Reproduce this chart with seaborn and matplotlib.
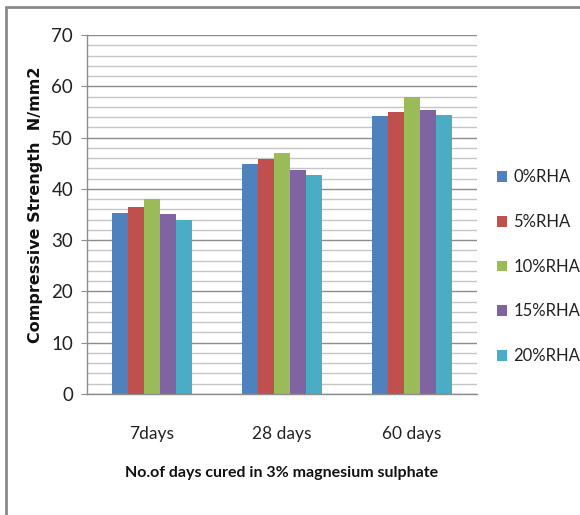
import matplotlib
matplotlib.use("Agg")
import matplotlib.pyplot as plt
from matplotlib.lines import Line2D
from matplotlib.ticker import MultipleLocator
import seaborn as sns
import pandas as pd

# Curing periods and rice husk ash replacement levels
days = ["7days", "28 days", "60 days"]
mixes = ["0%RHA", "5%RHA", "10%RHA", "15%RHA", "20%RHA"]

# Compressive strength (N/mm2) for each mix, per curing period
rha_0 = [35.2, 44.8, 54.3]
rha_5 = [36.5, 45.9, 55.0]
rha_10 = [38.0, 47.0, 58.0]
rha_15 = [35.0, 43.6, 55.4]
rha_20 = [33.9, 42.7, 54.5]

colors = ["#4F81BD", "#C0504D", "#9BBB59", "#8064A2", "#4BACC6"]

series = [rha_0, rha_5, rha_10, rha_15, rha_20]
rows = []
for mix, vals in zip(mixes, series):
    for d, v in zip(days, vals):
        rows.append({"days": d, "mix": mix, "strength": v})
df = pd.DataFrame(rows)

sns.set_style("white")
plt.rcParams["font.family"] = ["Lato", "DejaVu Sans"]

fig = plt.figure(figsize=(5.8, 5.15), dpi=100)
ax = fig.add_axes([0.15, 0.235, 0.6724, 0.697])

sns.barplot(data=df, x="days", y="strength", hue="mix", order=days,
            hue_order=mixes, palette=colors, width=0.62, saturation=1,
            linewidth=0, ax=ax, legend=True)

ax.set_ylim(0, 70)
ax.set_xlim(-0.5, 2.5)
ax.yaxis.set_major_locator(MultipleLocator(10))
ax.yaxis.set_minor_locator(MultipleLocator(2))
ax.set_axisbelow(True)
ax.grid(which="minor", axis="y", color="#c6c6c6", linewidth=1.0)
ax.grid(which="major", axis="y", color="#8c8c8c", linewidth=1.0)
ax.grid(axis="x", visible=False)

for side in ["top", "right"]:
    ax.spines[side].set_visible(False)
for side in ["left", "bottom"]:
    ax.spines[side].set_color("#8c8c8c")
    ax.spines[side].set_linewidth(1.0)

ax.tick_params(axis="y", which="major", direction="out", length=4,
               color="#8c8c8c", labelsize=13.5, pad=6, left=True)
ax.tick_params(axis="y", which="minor", length=0)
ax.tick_params(axis="x", length=0, labelsize=12.5, pad=23)
for lbl in ax.get_xticklabels() + ax.get_yticklabels():
    lbl.set_color("#222222")

ax.set_ylabel("Compressive Strength  N/mm2",
              fontdict={"family": "DejaVu Sans", "weight": "bold", "size": 11.5},
              color="#111111")
ax.yaxis.set_label_coords(-0.112, 0.527)
ax.set_xlabel("No.of days cured in 3% magnesium sulphate", fontweight="bold",
              fontsize=11.5, labelpad=17, color="#111111")

leg = ax.legend(loc="center left", bbox_to_anchor=(0.845, 0.482),
                bbox_transform=fig.transFigure, frameon=False, fontsize=12,
                handlelength=0.6, handleheight=0.6, handletextpad=0.4,
                labelspacing=1.72, borderaxespad=0)
for t in leg.get_texts():
    t.set_color("#222222")

# Chart frame edges on the left and top
fig.add_artist(Line2D([0.011, 0.011], [0.0, 0.986], transform=fig.transFigure,
                      color="#8a8a8a", linewidth=2))
fig.add_artist(Line2D([0.011, 1.0], [0.986, 0.986], transform=fig.transFigure,
                      color="#8a8a8a", linewidth=2))

fig.savefig("out.png", dpi=100, facecolor="white")
